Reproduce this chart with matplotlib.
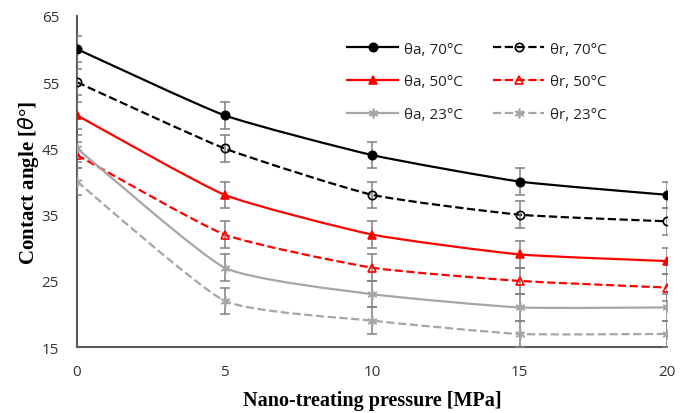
import numpy as np
import matplotlib
matplotlib.use("Agg")
import matplotlib.pyplot as plt
from matplotlib.path import Path
from matplotlib.patches import PathPatch
from matplotlib.lines import Line2D

pressure = [0, 5, 10, 15, 20]
theta_a_70 = [60, 50, 44, 40, 38]
theta_r_70 = [55, 45, 38, 35, 34]
theta_a_50 = [50, 38, 32, 29, 28]
theta_r_50 = [44, 32, 27, 25, 24]
theta_a_23 = [45, 27, 23, 21, 21]
theta_r_23 = [40, 22, 19, 17, 17]
err = [2, 2, 2, 2, 2]
labels = ["θa, 70°C", "θr, 70°C", "θa, 50°C", "θr, 50°C", "θa, 23°C", "θr, 23°C"]

series = [
    (theta_a_70, "black", "-", "o", "black"),
    (theta_r_70, "black", "--", "o", "none"),
    (theta_a_50, "#ff0000", "-", "^", "#ff0000"),
    (theta_r_50, "#ff0000", "--", "^", "none"),
    (theta_a_23, "#a6a6a6", "-", (6, 2, 0), "#a6a6a6"),
    (theta_r_23, "#a6a6a6", "--", (6, 2, 0), "#a6a6a6"),
]

fig = plt.figure(figsize=(6.88, 4.14), dpi=100)
ax = fig.add_axes([0.112, 0.159, 0.858, 0.8])

def smooth_path(x, y, k=12.0):
    x = np.asarray(x, float); y = np.asarray(y, float)
    verts = [(x[0], y[0])]
    codes = [Path.MOVETO]
    n = len(x)
    for i in range(n - 1):
        p0 = np.array([x[max(i - 1, 0)], y[max(i - 1, 0)]])
        p1 = np.array([x[i], y[i]])
        p2 = np.array([x[i + 1], y[i + 1]])
        p3 = np.array([x[min(i + 2, n - 1)], y[min(i + 2, n - 1)]])
        c1 = p1 + (p2 - p0) / k
        c2 = p2 - (p3 - p1) / k
        verts += [tuple(c1), tuple(c2), tuple(p2)]
        codes += [Path.CURVE4] * 3
    return Path(verts, codes)

lw = 1.6
handles = []
for (vals, col, ls, mk, mfc), lab in zip(series, labels):
    patch = PathPatch(smooth_path(pressure, vals), fill=False, edgecolor=col,
                      linestyle=ls, linewidth=lw, zorder=2)
    ax.add_patch(patch)
    ax.errorbar(pressure, vals, yerr=err, fmt="none", ecolor="#808080",
                elinewidth=1.1, capsize=3.3, capthick=1.1, zorder=3)
    ms = 6 if mk != (6, 2, 0) else 7
    ax.plot(pressure, vals, linestyle="none", marker=mk, markersize=ms,
            markerfacecolor=mfc, markeredgecolor=col, markeredgewidth=1.2, zorder=4)
    handles.append(Line2D([], [], color=col, linestyle=ls, linewidth=lw, marker=mk,
                          markersize=ms, markerfacecolor=mfc, markeredgecolor=col,
                          markeredgewidth=1.2, label=lab))

ax.set_xlim(0, 20)
ax.set_ylim(15, 65)
ax.set_xticks([0, 5, 10, 15, 20])
ax.set_yticks([15, 25, 35, 45, 55, 65])
for s in ["top", "right"]:
    ax.spines[s].set_visible(False)
for s in ["left", "bottom"]:
    ax.spines[s].set_color("#595959")
    ax.spines[s].set_linewidth(1.5)
ax.tick_params(length=0, labelsize=11, labelcolor="#333333")
ax.tick_params(axis="y", pad=13)
ax.tick_params(axis="x", pad=12)
for t in ax.get_xticklabels() + ax.get_yticklabels():
    t.set_family("Open Sans")

ax.set_xlabel("Nano-treating pressure [MPa]", family="Liberation Serif",
              fontweight="bold", fontsize=14.5, labelpad=8)
ax.set_ylabel(r"Contact angle [$\theta$°]", family="Liberation Serif",
              fontweight="bold", fontsize=15, labelpad=0.5)

order = [0, 2, 4, 1, 3, 5]
leg = ax.legend(handles=[handles[i] for i in order], ncol=2, loc="upper left",
                bbox_to_anchor=(0.458, 0.922), frameon=False, borderpad=0,
                borderaxespad=0, handlelength=3.3, columnspacing=2.0,
                labelspacing=1.15, handletextpad=0.4,
                prop={"family": "Open Sans", "size": 11})
for t in leg.get_texts():
    t.set_color("#222222")

fig.savefig("out.png", dpi=100)
